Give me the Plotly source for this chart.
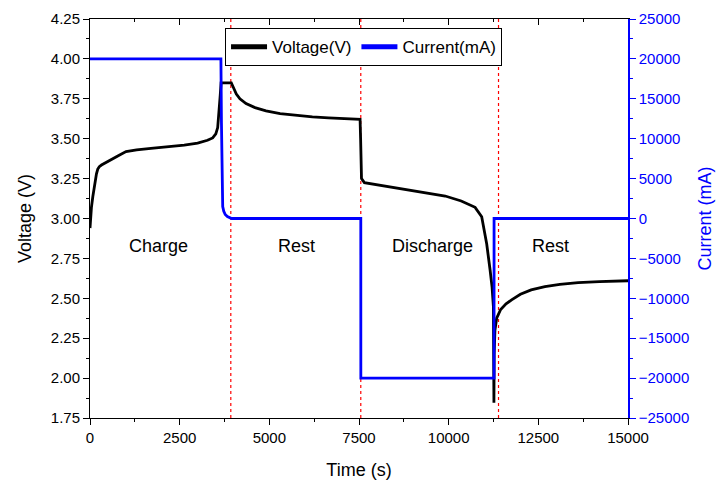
import plotly.graph_objects as go

# Voltage trace (time s, voltage V)
v_time = [0, 15, 40, 78, 130, 180, 217, 260, 320, 403, 600, 800, 1005, 1300, 1700, 2200, 2627, 3000, 3276, 3420, 3508, 3560, 3600, 3630, 3655,
          3940, 3970, 4010, 4080, 4180, 4350, 4600, 4907, 5300, 5740, 6200, 6650, 7100, 7530,
          7545, 7570, 7650, 8049, 8500, 8975, 9450, 9903, 10350, 10737, 10921, 11061, 11155, 11210, 11247, 11262,
          11268, 11290, 11338, 11450, 11600, 11755, 12000, 12300, 12683, 13100, 13610, 14200, 14908, 15000]
voltage = [2.94, 3.0, 3.07, 3.136, 3.22, 3.28, 3.31, 3.325, 3.335, 3.346, 3.37, 3.395, 3.419, 3.43, 3.44, 3.45, 3.46, 3.472, 3.49, 3.505, 3.53, 3.57, 3.66, 3.77, 3.85,
           3.85, 3.835, 3.81, 3.78, 3.75, 3.72, 3.695, 3.675, 3.657, 3.645, 3.637, 3.631, 3.627, 3.622,
           3.5, 3.25, 3.225, 3.21, 3.19, 3.174, 3.158, 3.141, 3.11, 3.07, 3.011, 2.84, 2.677, 2.57, 2.45, 1.845,
           2.15, 2.3, 2.375, 2.43, 2.465, 2.49, 2.525, 2.553, 2.573, 2.587, 2.598, 2.605, 2.61, 2.61]

# Current trace (time s, current mA)
i_time = [0, 3650, 3665, 3680, 3700, 3730, 3770, 3830, 3900, 3950, 7550, 7551, 11265, 11266, 15000]
current = [20000, 20000, 12000, 2400, 1500, 900, 500, 250, 100, 0, 0, -20000, -20000, 0, 0]

# Phase boundaries and labels
boundaries = [3926, 7550, 11390]
phase_labels = ["Charge", "Rest", "Discharge", "Rest"]
phase_x = [1900, 5750, 9550, 12850]
phase_y = [2.83, 2.83, 2.83, 2.83]

FONT = "Liberation Sans, Arial, sans-serif"

fig = go.Figure()
for b in boundaries:
    fig.add_trace(go.Scatter(x=[b, b], y=[1.75, 4.25], mode="lines", yaxis="y",
                             line=dict(color="#FF0000", width=1.2, dash="dot"),
                             showlegend=False, hoverinfo="skip"))
fig.add_trace(go.Scatter(x=v_time, y=voltage, mode="lines", name="Voltage(V)",
                         line=dict(color="black", width=2.8), yaxis="y"))
fig.add_trace(go.Scatter(x=i_time, y=current, mode="lines", name="Current(mA)",
                         line=dict(color="#0000FF", width=2.8), yaxis="y2"))

for lbl, px, py in zip(phase_labels, phase_x, phase_y):
    fig.add_annotation(x=px, y=py, xref="x", yref="y", text=lbl, showarrow=False,
                       font=dict(family=FONT, size=18, color="black"))

fig.update_layout(
    width=720, height=482,
    margin=dict(l=90, r=92, t=19, b=64, autoexpand=False),
    paper_bgcolor="white", plot_bgcolor="white",
    font=dict(family=FONT, size=15, color="black"),
    showlegend=True,
    legend=dict(orientation="h", x=0.251, y=0.977, xanchor="left", yanchor="top",
                bordercolor="black", borderwidth=1, bgcolor="white",
                font=dict(family=FONT, size=17, color="black"),
                itemwidth=36, tracegroupgap=0, itemsizing="constant"),
    xaxis=dict(range=[0, 15000], dtick=2500, tick0=0, tickformat="d", showgrid=False, zeroline=False,
               automargin=False,
               showline=True, linecolor="black", linewidth=1,
               ticks="outside", ticklen=6, tickcolor="black",
               minor=dict(ticks="outside", ticklen=3, dtick=1250, tickcolor="black"),
               title=dict(text="Time (s)", font=dict(family=FONT, size=18), standoff=18),
               tickfont=dict(family=FONT, size=15)),
    xaxis2=dict(range=[0, 15000], dtick=2500, tick0=0, overlaying="x", side="top",
                automargin=False,
                showgrid=False, zeroline=False, showticklabels=False,
                showline=True, linecolor="black", linewidth=1,
                ticks="inside", ticklen=6, tickcolor="black",
                minor=dict(ticks="inside", ticklen=3, dtick=1250, tickcolor="black")),
    yaxis=dict(range=[1.75, 4.25], dtick=0.25, tick0=1.75, tickformat=".2f",
               automargin=False,
               showgrid=False, zeroline=False, showline=True, linecolor="black", linewidth=1,
               ticks="outside", ticklen=6, tickcolor="black",
               minor=dict(ticks="outside", ticklen=3, dtick=0.125, tickcolor="black"),
               title=dict(text="Voltage (V)", font=dict(family=FONT, size=18), standoff=14),
               tickfont=dict(family=FONT, size=15)),
    yaxis2=dict(range=[-25000, 25000], dtick=5000, tick0=0, tickformat="d", overlaying="y", side="right",
                automargin=False,
                showgrid=False, zeroline=False, showline=True, linecolor="#0000FF", linewidth=1.5,
                ticks="outside", ticklen=6, tickcolor="#0000FF",
                minor=dict(ticks="outside", ticklen=3, dtick=2500, tickcolor="#0000FF"),
                title=dict(text="Current (mA)", font=dict(family=FONT, size=18, color="#0000FF"), standoff=10),
                tickfont=dict(family=FONT, size=15, color="#0000FF")),
)
# dummy trace for top axis
fig.add_trace(go.Scatter(x=[0], y=[None], xaxis="x2", yaxis="y", showlegend=False, hoverinfo="skip"))

fig.write_html("out.html")
